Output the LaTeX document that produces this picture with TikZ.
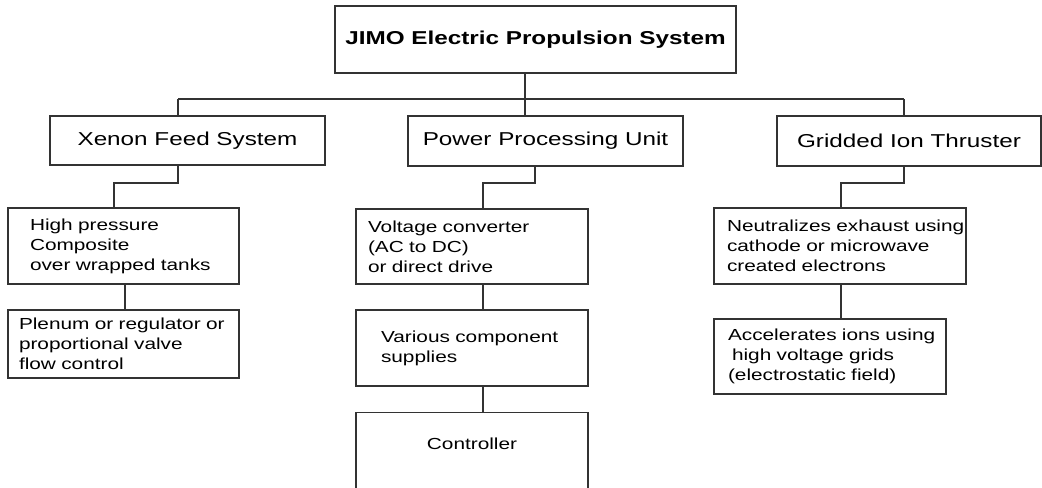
\documentclass[tikz,border=0pt]{standalone}
\usepackage{fontspec}
\setmainfont{Liberation Sans}[FakeStretch=1.3]
\begin{document}
\begin{tikzpicture}[x=0.75pt,y=-0.75pt]
\tikzstyle{boite} = [draw=black!80,line width=0.8pt,rectangle,inner ysep=2pt];
\tikzstyle{titre} = [boite,font=\fontsize{14}{17}\selectfont];
\tikzstyle{desc} = [boite,align=left,font=\fontsize{12}{15}\selectfont];
\tikzstyle{lien} = [draw=black!80,line width=0.8pt];

\useasboundingbox (0,0) rectangle (1042,487);

% haut
\node[titre,font=\fontsize{14}{17}\selectfont\bfseries,minimum width=300.75pt,minimum height=50.25pt] (jimo) at (535.5,39.5) {JIMO Electric Propulsion System};

\node[titre,minimum width=206.25pt,minimum height=36.75pt] (xenon) at (187.5,140.5) {Xenon Feed System};
\node[titre,minimum width=206.25pt,minimum height=37.5pt] (ppu) at (545.5,141) {Power Processing Unit};
\node[titre,minimum width=198pt,minimum height=37.5pt] (git) at (909,141) {Gridded Ion Thruster};

% colonne gauche
\node[desc,text width=140.25pt,inner xsep=16.5pt,minimum height=57pt] (hp) at (123.5,246) {High pressure\\Composite\\over wrapped tanks};
\node[desc,text width=156.75pt,inner xsep=8.25pt,minimum height=51pt] (plenum) at (123.5,344) {\mbox{Plenum or regulator or}\\proportional valve\\flow control};

% colonne milieu
\node[desc,text width=156pt,inner xsep=9pt,minimum height=56.25pt] (vc) at (472,246.5) {Voltage converter\\(AC to DC)\\or direct drive};
\node[desc,text width=136.5pt,inner xsep=18.75pt,minimum height=57pt] (vcs) at (472,348) {\mbox{Various component}\\supplies};
\node[desc,align=center,text width=156pt,inner xsep=9pt,inner ysep=0pt,text height=27.4pt,text depth=40pt,anchor=north] (ctrl) at (472,412) {Controller};

% colonne droite
\node[desc,text width=169.5pt,inner xsep=9.75pt,minimum height=57pt] (neut) at (840,246) {\mbox{Neutralizes exhaust using}\\cathode or microwave\\created electrons};
\node[desc,text width=153pt,inner xsep=10.5pt,minimum height=56.25pt] (acc) at (830,356.5) {\mbox{Accelerates ions using}\\\hspace*{3pt}high voltage grids\\(electrostatic field)};

% liaisons
\coordinate (busL) at (178,99);
\coordinate (busM) at (525,99);
\coordinate (busR) at (904,99);
\coordinate (xk) at (114,183);
\coordinate (hk) at (125,0);
\coordinate (ptap) at (535,183);
\coordinate (pk) at (483,183);
\coordinate (gk) at (841,183);

\draw[lien] (busL) -- (busR);
\draw[lien] (jimo.south -| busM) -- (ppu.north -| busM);
\draw[lien] (busL) -- (xenon.north -| busL);
\draw[lien] (busR) -- (git.north -| busR);

\draw[lien] (xenon.south -| busL) |- (xk) -- (hp.north -| xk);
\draw[lien] (ppu.south -| ptap) -- (ptap) -- (pk) -- (vc.north -| pk);
\draw[lien] (git.south -| busR) |- (gk) -- (neut.north -| gk);

\draw[lien] (hp.south -| hk) -- (plenum.north -| hk);
\foreach \a/\b in {vc/vcs,vcs/ctrl}{
	\draw[lien] (\a.south -| pk) -- (\b.north -| pk);
}
\draw[lien] (neut.south -| gk) -- (acc.north -| gk);

\end{tikzpicture}
\end{document}
